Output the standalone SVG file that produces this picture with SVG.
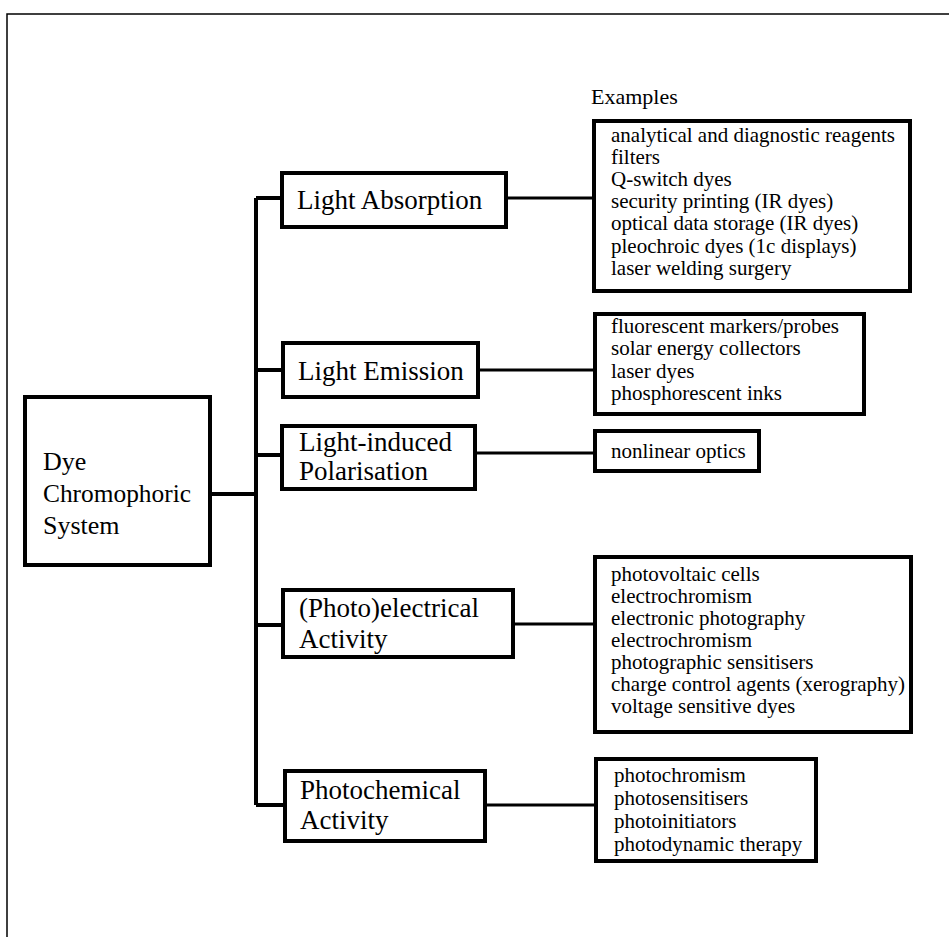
<svg xmlns="http://www.w3.org/2000/svg" width="949" height="937" viewBox="0 0 949 937">
<style>
.box{fill:#fff;stroke:#000;stroke-width:4}
.lbl{font-family:"Liberation Serif","Times New Roman",serif;font-size:27px;fill:#000}
.ex{font-family:"Liberation Serif","Times New Roman",serif;font-size:21px;fill:#000}
.c{fill:none;stroke:#000;stroke-width:4}
.c2{fill:none;stroke:#000;stroke-width:3}
.frame{fill:none;stroke:#000;stroke-width:1.5}
</style>
<rect width="949" height="937" fill="#fff"/>
<path class="frame" d="M7,937 V14 H949"/>
<text class="lbl" x="591" y="104" style="font-size:22px">Examples</text>
<g id="connectors">
<path class="c" d="M256,198 V805"/>
<path class="c" d="M256,198 H282"/>
<path class="c" d="M256,370 H283"/>
<path class="c" d="M256,455 H282"/>
<path class="c" d="M210,494 H256"/>
<path class="c" d="M256,625 H283"/>
<path class="c" d="M256,805 H285"/>
<path class="c2" d="M507,198 H594"/>
<path class="c2" d="M478,370 H595"/>
<path class="c2" d="M475,453 H595"/>
<path class="c2" d="M513,624 H595"/>
<path class="c2" d="M485,805 H596"/>
</g>
<g id="dye">
<rect class="box" x="25" y="397" width="185" height="168"/>
<text class="lbl" x="43" y="470" style="font-size:26px">Dye</text>
<text class="lbl" x="43" y="502" style="font-size:26px" textLength="148" lengthAdjust="spacingAndGlyphs">Chromophoric</text>
<text class="lbl" x="43" y="534" style="font-size:26px">System</text>
</g>
<g id="absorption">
<rect class="box" x="282" y="173" width="224" height="54"/>
<text class="lbl" x="297" y="209">Light Absorption</text>
</g>
<g id="emission">
<rect class="box" x="283" y="343" width="195" height="54"/>
<text class="lbl" x="298" y="380">Light Emission</text>
</g>
<g id="polarisation">
<rect class="box" x="282" y="426" width="193" height="63"/>
<text class="lbl" x="299" y="451">Light-induced</text>
<text class="lbl" x="299" y="480">Polarisation</text>
</g>
<g id="photoelectrical">
<rect class="box" x="283" y="590" width="230" height="67"/>
<text class="lbl" x="299" y="617">(Photo)electrical</text>
<text class="lbl" x="299" y="648">Activity</text>
</g>
<g id="photochemical">
<rect class="box" x="285" y="771" width="200" height="70"/>
<text class="lbl" x="300" y="799">Photochemical</text>
<text class="lbl" x="300" y="829">Activity</text>
</g>
<g id="ex-absorption">
<rect class="box" x="594" y="121" width="316" height="170"/>
<text class="ex" x="611" y="142">analytical and diagnostic reagents</text>
<text class="ex" x="611" y="164">filters</text>
<text class="ex" x="611" y="186">Q-switch dyes</text>
<text class="ex" x="611" y="208">security printing (IR dyes)</text>
<text class="ex" x="611" y="230">optical data storage (IR dyes)</text>
<text class="ex" x="611" y="253">pleochroic dyes (1c displays)</text>
<text class="ex" x="611" y="275">laser welding surgery</text>
</g>
<g id="ex-emission">
<rect class="box" x="595" y="314" width="269" height="100"/>
<text class="ex" x="611" y="333">fluorescent markers/probes</text>
<text class="ex" x="611" y="355">solar energy collectors</text>
<text class="ex" x="611" y="378">laser dyes</text>
<text class="ex" x="611" y="400">phosphorescent inks</text>
</g>
<g id="ex-polarisation">
<rect class="box" x="595" y="431" width="164" height="40"/>
<text class="ex" x="611" y="458">nonlinear optics</text>
</g>
<g id="ex-photoelectrical">
<rect class="box" x="595" y="557" width="316" height="175"/>
<text class="ex" x="611" y="581">photovoltaic cells</text>
<text class="ex" x="611" y="603">electrochromism</text>
<text class="ex" x="611" y="625">electronic photography</text>
<text class="ex" x="611" y="647">electrochromism</text>
<text class="ex" x="611" y="669">photographic sensitisers</text>
<text class="ex" x="611" y="691">charge control agents (xerography)</text>
<text class="ex" x="611" y="713">voltage sensitive dyes</text>
</g>
<g id="ex-photochemical">
<rect class="box" x="596" y="759" width="220" height="102"/>
<text class="ex" x="614" y="782">photochromism</text>
<text class="ex" x="614" y="805">photosensitisers</text>
<text class="ex" x="614" y="828">photoinitiators</text>
<text class="ex" x="614" y="851">photodynamic therapy</text>
</g>
</svg>
